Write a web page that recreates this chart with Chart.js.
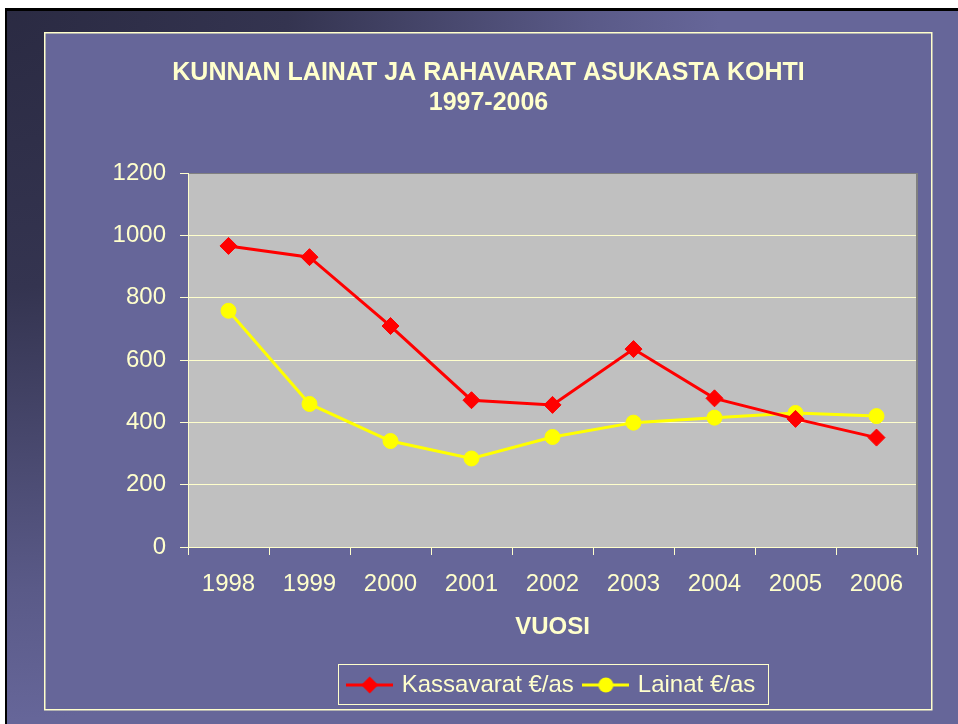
<!DOCTYPE html>
<html lang="fi">
<head>
    <meta charset="UTF-8">
    <title>Kunnan lainat ja rahavarat asukasta kohti</title>
    <style>
        html, body {
            margin: 0;
            padding: 0;
            background: #ffffff;
            overflow: hidden;
        }
        canvas {
            display: block;
        }
    </style>
    <script src="https://cdn.jsdelivr.net/npm/chart.js"></script>
</head>
<body>
    <canvas id="chart" width="958" height="724"></canvas>

    <script>
        // Data
        const years = ['1998', '1999', '2000', '2001', '2002', '2003', '2004', '2005', '2006'];
        const kassavarat = [966, 930, 709, 471, 456, 635, 477, 411, 351];
        const lainat = [758, 459, 340, 284, 353, 399, 415, 430, 420];
        const yMin = 0;
        const yMax = 1200;
        const yStep = 200;

        const titleLines = ['KUNNAN LAINAT JA RAHAVARAT ASUKASTA KOHTI', '1997-2006'];
        const xTitle = 'VUOSI';
        const seriesNames = ['Kassavarat €/as', 'Lainat €/as'];

        const cream = '#ffffcc';
        const red = '#ff0000';
        const yellow = '#ffff00';

        Chart.defaults.font.family = '"Liberation Sans", Arial, sans-serif';

        // small legend symbols: line with marker in the middle
        function legendSymbol(color, shape) {
            const c = document.createElement('canvas');
            c.width = 47;
            c.height = 20;
            const g = c.getContext('2d');
            g.strokeStyle = color;
            g.fillStyle = color;
            g.lineWidth = 3;
            g.beginPath();
            g.moveTo(0, 10);
            g.lineTo(47, 10);
            g.stroke();
            g.beginPath();
            if (shape === 'diamond') {
                g.moveTo(23.5, 1.5);
                g.lineTo(32, 10);
                g.lineTo(23.5, 18.5);
                g.lineTo(15, 10);
                g.closePath();
            } else {
                g.arc(23.5, 10, 7.5, 0, Math.PI * 2);
            }
            g.fill();
            return c;
        }
        const symbols = [legendSymbol(red, 'diamond'), legendSymbol(yellow, 'circle')];

        const frame = {
            id: 'frame',
            beforeDraw(chart) {
                const ctx = chart.ctx;
                const a = chart.chartArea;
                ctx.save();
                ctx.fillStyle = '#ffffff';
                ctx.fillRect(0, 0, chart.width, chart.height);

                // slide background, dark in the upper left corner
                const grad = ctx.createRadialGradient(0, 0, 0, 0, 0, 720);
                grad.addColorStop(0, '#2a2a42');
                grad.addColorStop(0.4, '#343450');
                grad.addColorStop(0.82, '#5a5a88');
                grad.addColorStop(1, '#666699');
                ctx.fillStyle = grad;
                ctx.fillRect(5, 8, chart.width - 5, chart.height - 8);
                ctx.fillStyle = '#000000';
                ctx.fillRect(5, 8, chart.width - 5, 3);
                ctx.fillRect(5, 8, 2, chart.height - 8);

                // chart object
                ctx.fillStyle = '#666699';
                ctx.fillRect(45, 33, 887, 677);
                ctx.strokeStyle = cream;
                ctx.lineWidth = 1.5;
                ctx.strokeRect(44.75, 32.75, 887, 677);

                // plot area
                ctx.fillStyle = '#c0c0c0';
                ctx.fillRect(a.left, a.top, a.right - a.left, a.bottom - a.top);
                ctx.restore();
            },
            beforeDatasetsDraw(chart) {
                const ctx = chart.ctx;
                const a = chart.chartArea;
                ctx.save();
                ctx.strokeStyle = '#808080';
                ctx.lineWidth = 2;
                ctx.beginPath();
                ctx.moveTo(a.right, a.top);
                ctx.lineTo(a.right, a.bottom);
                ctx.stroke();
                ctx.restore();
            },
            afterDraw(chart) {
                // border round the legend
                const boxes = chart.legend.legendHitBoxes;
                if (!boxes || !boxes.length) return;
                const first = boxes[0];
                const last = boxes[boxes.length - 1];
                const cy = first.top + first.height / 2;
                const x0 = first.left - 12;
                const x1 = last.left + last.width + 12;
                const ctx = chart.ctx;
                ctx.save();
                ctx.strokeStyle = cream;
                ctx.lineWidth = 1;
                ctx.strokeRect(Math.round(x0) + 0.5, Math.round(cy - 21) + 0.5, Math.round(x1 - x0), 40);
                ctx.restore();
            }
        };

        new Chart(document.getElementById('chart'), {
            type: 'line',
            data: {
                labels: years,
                datasets: [
                    {
                        label: seriesNames[0],
                        data: kassavarat,
                        borderColor: red,
                        backgroundColor: red,
                        borderWidth: 3,
                        pointStyle: 'rectRot',
                        pointRadius: 8.5,
                        pointBorderWidth: 1,
                        tension: 0
                    },
                    {
                        label: seriesNames[1],
                        data: lainat,
                        borderColor: yellow,
                        backgroundColor: yellow,
                        borderWidth: 3,
                        pointStyle: 'circle',
                        pointRadius: 7.5,
                        pointBorderWidth: 1,
                        tension: 0
                    }
                ]
            },
            options: {
                responsive: false,
                devicePixelRatio: 1,
                animation: false,
                layout: {
                    padding: { left: 45, right: 26, top: 0, bottom: 17 }
                },
                plugins: {
                    title: {
                        display: true,
                        text: titleLines,
                        color: cream,
                        font: { size: 25, weight: 'bold' },
                        padding: { top: 58, bottom: 55 }
                    },
                    legend: {
                        position: 'bottom',
                        fullSize: false,
                        labels: {
                            color: cream,
                            font: { size: 24 },
                            usePointStyle: true,
                            pointStyleWidth: 40,
                            padding: 12,
                            generateLabels(chart) {
                                return chart.data.datasets.map((ds, i) => ({
                                    text: ds.label,
                                    fontColor: cream,
                                    pointStyle: symbols[i],
                                    datasetIndex: i,
                                    lineWidth: 0,
                                    hidden: false
                                }));
                            }
                        }
                    },
                    tooltip: { enabled: false }
                },
                scales: {
                    x: {
                        offset: true,
                        grid: {
                            offset: true,
                            drawOnChartArea: false,
                            drawTicks: true,
                            tickLength: 8,
                            tickColor: cream
                        },
                        border: { color: cream, width: 1 },
                        ticks: {
                            color: cream,
                            font: { size: 24 },
                            padding: 15,
                            maxRotation: 0
                        },
                        title: {
                            display: true,
                            text: xTitle,
                            color: cream,
                            font: { size: 24, weight: 'bold' },
                            padding: { top: 0, bottom: 19 }
                        },
                        afterFit(scale) {
                            scale.height = 114;
                        }
                    },
                    y: {
                        min: yMin,
                        max: yMax,
                        grid: {
                            color: (c) => (c.tick && c.tick.value === yMax ? '#808080' : cream),
                            tickColor: cream,
                            tickLength: 8,
                            lineWidth: 1
                        },
                        border: { color: cream, width: 1 },
                        ticks: {
                            stepSize: yStep,
                            color: cream,
                            font: { size: 24 },
                            padding: 14,
                            callback: (v) => String(v)
                        },
                        afterFit(scale) {
                            scale.width = 143;
                        }
                    },
                    yRight: {
                        position: 'right',
                        display: true,
                        grid: { display: false },
                        border: { display: false },
                        ticks: { display: false },
                        afterFit(scale) {
                            scale.width = 15;
                        }
                    }
                }
            },
            plugins: [frame]
        });
    </script>
</body>
</html>
